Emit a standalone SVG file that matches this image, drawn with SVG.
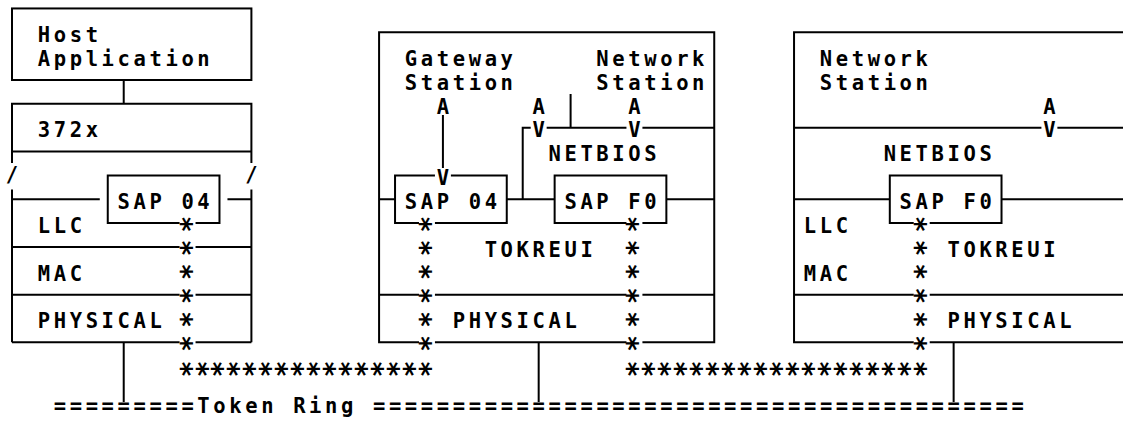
<svg xmlns="http://www.w3.org/2000/svg" width="1123" height="427" viewBox="0 0 1123 427">
<style>
.t{font-family:"DejaVu Sans Mono","Liberation Mono",monospace;font-size:20.5px;font-weight:bold;letter-spacing:3.62px;fill:#000}
.ast{font-family:"DejaVu Sans Mono","Liberation Mono",monospace;font-size:28px;font-weight:bold;fill:#000}
.ln{fill:none;stroke:#000;stroke-width:2;stroke-linecap:butt}
</style>
<rect x="0" y="0" width="1123" height="427" fill="#fff"/>

<g id="host-application">
<rect class="ln" x="12" y="8.45" width="239.4" height="71.55"/>
<text class="t" x="37.75" y="42">Host</text>
<text class="t" x="37.75" y="65.85">Application</text>
</g>

<g id="box-372x">
<path class="ln" d="M12,163 V103.85 H251.4 V163 M12,151.55 H251.4"/>
<text class="t" x="37.75" y="137.4">372x</text>
<text class="t" x="5.83" y="182">/</text>
<text class="t" x="245.23" y="182">/</text>
<path class="ln" d="M12,189.5 V342.35 M251.4,189.5 V342.35 M12,199.25 H99.78 M227.46,199.25 H251.4 M12,246.95 H179.58 M195.54,246.95 H251.4 M12,294.65 H179.58 M195.54,294.65 H251.4 M12,342.35 H179.58 M195.54,342.35 H251.4"/>
<path class="ln" d="M179.58,223.1 H107.76 V175.4 H219.48 V223.1 H195.54"/>
<text class="t" x="117.55" y="208.95">SAP 04</text>
<text class="t" x="37.75" y="232.8">LLC</text>
<text class="t" x="37.75" y="280.5">MAC</text>
<text class="t" x="37.75" y="328.2">PHYSICAL</text>
<text class="ast" rotate="90" x="171.56 171.56 171.56 171.56 171.56 171.56" y="215.67 239.57 263.37 287.27 311.07 334.97">******</text>
</g>

<g id="gateway-station">
<path class="ln" d="M418.98,342.35 H379.08 V32.3 H714.24 V342.35 H642.42 M626.46,342.35 H434.94"/>
<text class="t" x="404.83" y="65.85">Gateway</text>
<text class="t" x="404.83" y="89.7">Station</text>
<text class="t" x="596.35" y="65.85">Network</text>
<text class="t" x="596.35" y="89.7">Station</text>
<text class="t" x="436.75" y="113.55">A</text>
<text class="t" x="532.51" y="113.55">A</text>
<text class="t" x="628.27" y="113.55">A</text>
<text class="t" x="532.51" y="137.4">V</text>
<text class="t" x="628.27" y="137.4">V</text>
<text class="t" x="548.47" y="161.25">NETBIOS</text>
<text class="t" x="436.75" y="185.1">V</text>
<path class="ln" d="M434.94,175.4 H395.04 V223.1 H418.98 M434.94,223.1 H506.76 V175.4 H450.9"/>
<text class="t" x="404.83" y="208.95">SAP 04</text>
<path class="ln" d="M626.46,223.1 H554.64 V175.4 H666.36 V223.1 H642.42"/>
<text class="t" x="564.43" y="208.95">SAP F0</text>
<path class="ln" d="M379.08,294.65 H418.98 M434.94,294.65 H626.46 M642.42,294.65 H714.24"/>
<text class="t" x="484.63" y="256.65">TOKREUI</text>
<text class="t" x="452.71" y="328.2">PHYSICAL</text>
<text class="ast" rotate="90" x="410.96 410.96 410.96 410.96 410.96 410.96" y="215.67 239.57 263.37 287.27 311.07 334.97">******</text>
<text class="ast" rotate="90" x="618.44 618.44 618.44 618.44 618.44 618.44" y="215.67 239.57 263.37 287.27 311.07 334.97">******</text>
</g>

<g id="network-station">
<path class="ln" d="M1123,32.3 H794.04 V342.35 H913.74 M929.7,342.35 H1123"/>
<text class="t" x="819.79" y="65.85">Network</text>
<text class="t" x="819.79" y="89.7">Station</text>
<text class="t" x="1043.23" y="113.55">A</text>
<text class="t" x="1043.23" y="137.4">V</text>
<path class="ln" d="M794.04,127.7 H1041.42 M1057.38,127.7 H1123"/>
<text class="t" x="883.63" y="161.25">NETBIOS</text>
<path class="ln" d="M913.74,223.1 H889.8 V175.4 H1001.52 V223.1 H929.7"/>
<text class="t" x="899.59" y="208.95">SAP F0</text>
<path class="ln" d="M794.04,199.25 H889.8 M1001.52,199.25 H1123 M794.04,294.65 H913.74 M929.7,294.65 H1123"/>
<text class="t" x="803.83" y="232.8">LLC</text>
<text class="t" x="947.47" y="256.65">TOKREUI</text>
<text class="t" x="803.83" y="280.5">MAC</text>
<text class="t" x="947.47" y="328.2">PHYSICAL</text>
<text class="ast" rotate="90" x="905.72 905.72 905.72 905.72 905.72 905.72" y="215.67 239.57 263.37 287.27 311.07 334.97">******</text>
</g>

<g id="connectors">
<path class="ln" d="M123.72,80 V103.85"/>
<path class="ln" d="M442.92,115 V168"/>
<path class="ln" d="M522.72,199.25 V127.7 H530.7 M546.66,127.7 H626.46 M642.42,127.7 H714.24 M570.6,94 V127.7"/>
<path class="ln" d="M379.08,199.25 H395.04 M506.76,199.25 H554.64 M666.36,199.25 H714.24"/>
<path class="ln" d="M123.72,342.35 V402 M538.68,342.35 V402 M953.64,342.35 V402"/>
<text class="ast" rotate="90" x="171.56 187.52 203.48 219.44 235.4 251.36 267.32 283.28 299.24 315.2 331.16 347.12 363.08 379.04 395 410.96" y="360.57">****************</text>
<text class="ast" rotate="90" x="618.44 634.4 650.36 666.32 682.28 698.24 714.2 730.16 746.12 762.08 778.04 794 809.96 825.92 841.88 857.84 873.8 889.76 905.72" y="360.57">*******************</text>
</g>

<g id="token-ring">
<text class="t" x="53.71" y="413">=========Token Ring =========================================</text>
</g>
</svg>
